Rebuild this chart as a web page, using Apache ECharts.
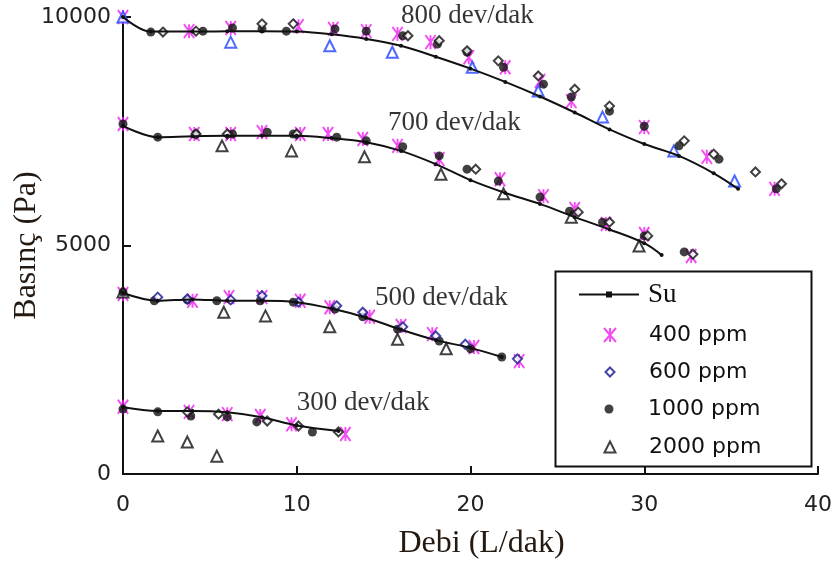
<!DOCTYPE html>
<html>
<head>
<meta charset="utf-8">
<script src="https://cdn.jsdelivr.net/npm/echarts@6/dist/echarts.min.js"></script>
<style>
  html, body { margin: 0; padding: 0; background: #fff; }
  #chart { width: 837px; height: 563px; }
</style>
</head>
<body>
<div id="chart"></div>
<script>
// Pressure (Pa) against flow rate (L/dak) at four pump speeds.
// "Su" is the plain-water reference curve; the other sets are polymer solutions.

// ---- 800 dev/dak ----
const su800 = [[0,10000],[1.6,9680],[4,9680],[6,9690],[8,9690],[10,9680],[12,9620],[14,9520],[16,9370],[18,9130],[20,8870],[22,8580],[24,8260],[26,7910],[28,7540],[30,7220],[32,6960],[34,6580],[35.4,6240]];
const ppm400_800 = [[0,10000],[3.8,9690],[6.2,9760],[10.1,9800],[12.1,9740],[14,9690],[15.8,9630],[17.7,9450],[19.9,9120],[22,8900],[24,8600],[25.8,8160],[30,7590],[33.6,6940],[37.5,6240]];
const ppm600_800 = [[2.3,9670],[4.2,9690],[8,9850],[9.8,9850],[16.4,9590],[18.2,9480],[19.8,9260],[21.6,9040],[23.9,8710],[26,8420],[28,8050],[32.3,7290],[34,7000],[36.4,6610],[37.9,6350]];
const ppm1000_800 = [[1.6,9670],[4.6,9690],[6.3,9760],[8,9740],[9.4,9690],[12.2,9740],[14,9690],[16.1,9590],[18.1,9410],[19.8,9230],[21.9,8900],[24.2,8530],[25.8,8250],[28,7940],[30,7610],[32,7180],[34.3,6890],[37.6,6240]];
const ppm2000_800 = [[0,10000],[6.2,9450],[11.9,9370],[15.5,9230],[20.1,8900],[23.9,8380],[27.6,7810],[31.7,7070],[35.2,6410]];

// ---- 700 dev/dak ----
const su700 = [[0,7620],[2,7370],[4,7390],[6,7400],[8,7400],[10,7400],[12,7350],[14,7260],[16,7070],[18,6780],[20,6430],[22,6150],[24,5910],[26,5620],[28,5350],[30,5050],[31,4790]];
const ppm400_700 = [[0,7660],[4.1,7440],[6.2,7440],[8,7480],[10.2,7440],[11.8,7440],[13.8,7330],[15.8,7180],[18.2,6890],[21.7,6450],[24.2,6080],[26,5800],[27.8,5470],[30,5250],[32.7,4770]];
const ppm600_700 = [[4.2,7440],[6,7440],[10,7440],[20.3,6670],[26.2,5730],[28,5510],[30.2,5210],[32.8,4810]];
const ppm1000_700 = [[0,7660],[2,7370],[4.2,7440],[6.3,7440],[8.3,7480],[9.8,7440],[12.3,7370],[14,7290],[16.1,7160],[18.2,6960],[19.8,6670],[21.6,6410],[24,6060],[25.7,5750],[27.6,5510],[30,5210],[32.3,4860]];
const ppm2000_700 = [[5.7,7180],[9.7,7070],[13.9,6940],[18.3,6560],[21.9,6130],[25.8,5620],[29.7,4990]];

// ---- 500 dev/dak ----
const su500 = [[0,3960],[2,3790],[4,3820],[6,3790],[8,3790],[10,3760],[12,3620],[14,3420],[16,3160],[18,2930],[20,2760],[21.8,2560]];
const ppm400_500 = [[0,3940],[4,3790],[6.1,3870],[8,3870],[10.2,3790],[11.9,3650],[14.2,3440],[16,3240],[17.8,3060],[20.2,2780],[22.8,2470]];
const ppm600_500 = [[2,3870],[3.7,3830],[6.2,3810],[8,3900],[10.1,3760],[12.3,3680],[13.8,3540],[16.1,3220],[18,3020],[19.7,2840],[22.7,2520]];
const ppm1000_500 = [[0,3980],[1.8,3790],[3.7,3810],[5.4,3790],[7.9,3790],[9.8,3760],[12.2,3610],[13.8,3440],[15.8,3170],[18.2,2910],[20,2740],[21.8,2560]];
const ppm2000_500 = [[0,3980],[5.8,3540],[8.2,3460],[11.9,3220],[15.8,2950],[18.6,2740]];

// ---- 300 dev/dak ----
const su300 = [[0,1460],[2,1380],[4,1380],[6,1350],[8,1240],[10,1060],[12.4,940]];
const ppm400_300 = [[0,1470],[3.8,1360],[6,1310],[7.9,1270],[9.7,1090],[12.8,875]];
const ppm600_300 = [[3.7,1360],[5.5,1310],[8.3,1160],[10.1,1050],[12.4,920]];
const ppm1000_300 = [[0,1420],[2,1360],[3.9,1270],[6,1250],[7.7,1140],[10.9,920]];
const ppm2000_300 = [[2,830],[3.7,700],[5.4,390]];

// Curve captions, anchored in data space at the caption's left edge
const speedNames = ['800 dev/dak', '700 dev/dak', '500 dev/dak', '300 dev/dak'];
const speedNamePos = [[16.0,10020],[15.25,7680],[14.5,3850],[10.0,1550]];

// Legend entries
const legendNames = ['Su', '400 ppm', '600 ppm', '1000 ppm', '2000 ppm'];

// Axis extents
const xAxisRange = [0, 40, 10];
const yAxisRange = [0, 10000, 5000];

const SERIF = '"Liberation Serif", "Times New Roman", serif';
const SANS = '"DejaVu Sans", sans-serif';
const INK = '#111';
const MAGENTA = '#f21ef2';
const NAVY = '#16168e';
const BLUE = '#2244ff';
const ASTERISK = 'path://M0,0L12,14M12,0L0,14M6,0L6,14';

const markerStyles = {
  star:    { symbol: ASTERISK, symbolSize: [12, 14], border: 2 },
  diamond: { symbol: 'emptyDiamond', symbolSize: 9, border: 2 },
  dot:     { symbol: 'circle', symbolSize: 9, border: 0 },
  tri:     { symbol: 'emptyTriangle', symbolSize: 11, border: 2 }
};

function markers(name, data, kind, color) {
  const m = markerStyles[kind];
  return {
    type: 'scatter', name: name, data: data, clip: false,
    symbol: m.symbol, symbolSize: m.symbolSize, symbolKeepAspect: true,
    itemStyle: { color: color, borderColor: color, borderWidth: m.border }
  };
}

function suLine(data) {
  return {
    type: 'line', name: 'Su', data: data, smooth: 0.35, clip: false,
    symbol: 'circle', symbolSize: 4, showSymbol: true,
    lineStyle: { color: INK, width: 2 },
    itemStyle: { color: INK }
  };
}

const series = [
  suLine(su500), suLine(su300), suLine(su700), suLine(su800),
  markers('400 ppm', ppm400_500, 'star', MAGENTA),
  markers('400 ppm', ppm400_300, 'star', MAGENTA),
  markers('400 ppm', ppm400_700, 'star', MAGENTA),
  markers('400 ppm', ppm400_800, 'star', MAGENTA),
  markers('2000 ppm', ppm2000_500, 'tri', INK),
  markers('2000 ppm', ppm2000_300, 'tri', INK),
  markers('2000 ppm', ppm2000_700, 'tri', INK),
  markers('2000 ppm', ppm2000_800, 'tri', BLUE),
  markers('1000 ppm', ppm1000_500, 'dot', INK),
  markers('1000 ppm', ppm1000_300, 'dot', INK),
  markers('1000 ppm', ppm1000_700, 'dot', INK),
  markers('1000 ppm', ppm1000_800, 'dot', INK),
  markers('600 ppm', ppm600_500, 'diamond', NAVY),
  markers('600 ppm', ppm600_300, 'diamond', INK),
  markers('600 ppm', ppm600_700, 'diamond', INK),
  markers('600 ppm', ppm600_800, 'diamond', INK),
  {
    type: 'scatter', name: 'captions', silent: true, clip: false,
    symbolSize: 0,
    data: speedNamePos.map((p, i) => ({ value: p, caption: speedNames[i] })),
    label: {
      show: true, position: 'right', distance: 0,
      formatter: (p) => p.data.caption,
      fontFamily: SERIF, fontSize: 27, color: '#000'
    }
  }
];

// One legend block per entry so each icon keeps its own size.
// Icons are centred on one column and every label starts on another.
const ICON_X = 609, TEXT_X = 648;
const legendCenters = [293, 333, 370, 407, 445];
const legendIcon = [[60, 6], [12, 14], [9, 9], [9, 9], [11, 11]];
const SU_ICON = 'path://M0,2H27V0H33V2H60V4H33V6H27V4H0Z';
const legends = legendNames.map((n, i) => {
  const w = legendIcon[i][0], h = legendIcon[i][1];
  const left = ICON_X - w / 2;
  const pad = TEXT_X - (left + w + 5);
  const isSu = i === 0;
  const fs = isSu ? 27 : 22;
  return {
    data: [isSu ? { name: n, icon: SU_ICON } : n],
    left: left, top: legendCenters[i] - (isSu ? 12 : 9), padding: 0,
    itemWidth: w, itemHeight: h, itemGap: 0,
    symbolKeepAspect: true, selectedMode: false,
    textStyle: {
      fontFamily: isSu ? SERIF : SANS, fontSize: fs, color: INK,
      padding: [0, 0, 0, Math.max(0, pad)]
    }
  };
});

const chart = echarts.init(document.getElementById('chart'), null, { renderer: 'canvas' });
chart.setOption({
  animation: false,
  backgroundColor: '#fff',
  grid: { left: 123, right: 19, top: 17, bottom: 89, containLabel: false, outerBoundsMode: 'none' },
  legend: legends,
  xAxis: {
    type: 'value', min: xAxisRange[0], max: xAxisRange[1], interval: xAxisRange[2],
    name: 'Debi (L/dak)', nameLocation: 'middle', nameGap: 54, nameMoveOverlap: false,
    nameTextStyle: { fontFamily: SERIF, fontSize: 32, color: '#241a12', padding: [0, 0, 0, 22] },
    axisLine: { show: true, onZero: false, lineStyle: { color: INK, width: 2 } },
    axisTick: { show: true, inside: true, length: 8, lineStyle: { color: INK, width: 2 } },
    axisLabel: { margin: 20, fontFamily: SANS, fontSize: 22, color: '#222', formatter: (v) => String(v) },
    splitLine: { show: false }
  },
  yAxis: {
    type: 'value', min: yAxisRange[0], max: yAxisRange[1], interval: yAxisRange[2],
    name: 'Basınç (Pa)', nameLocation: 'middle', nameGap: 80, nameMoveOverlap: false,
    nameTextStyle: { fontFamily: SERIF, fontSize: 32, color: '#241a12' },
    axisLine: { show: true, onZero: false, lineStyle: { color: INK, width: 2 } },
    axisTick: { show: true, inside: true, length: 8, lineStyle: { color: INK, width: 2 } },
    axisLabel: { margin: 12, fontFamily: SANS, fontSize: 22, color: '#222', formatter: (v) => String(v) },
    splitLine: { show: false }
  },
  graphic: [{
    type: 'rect', left: 553, top: 269, silent: true,
    shape: { width: 256, height: 195 },
    style: { fill: 'none', stroke: INK, lineWidth: 2 }
  }],
  series: series
});
</script>
</body>
</html>
